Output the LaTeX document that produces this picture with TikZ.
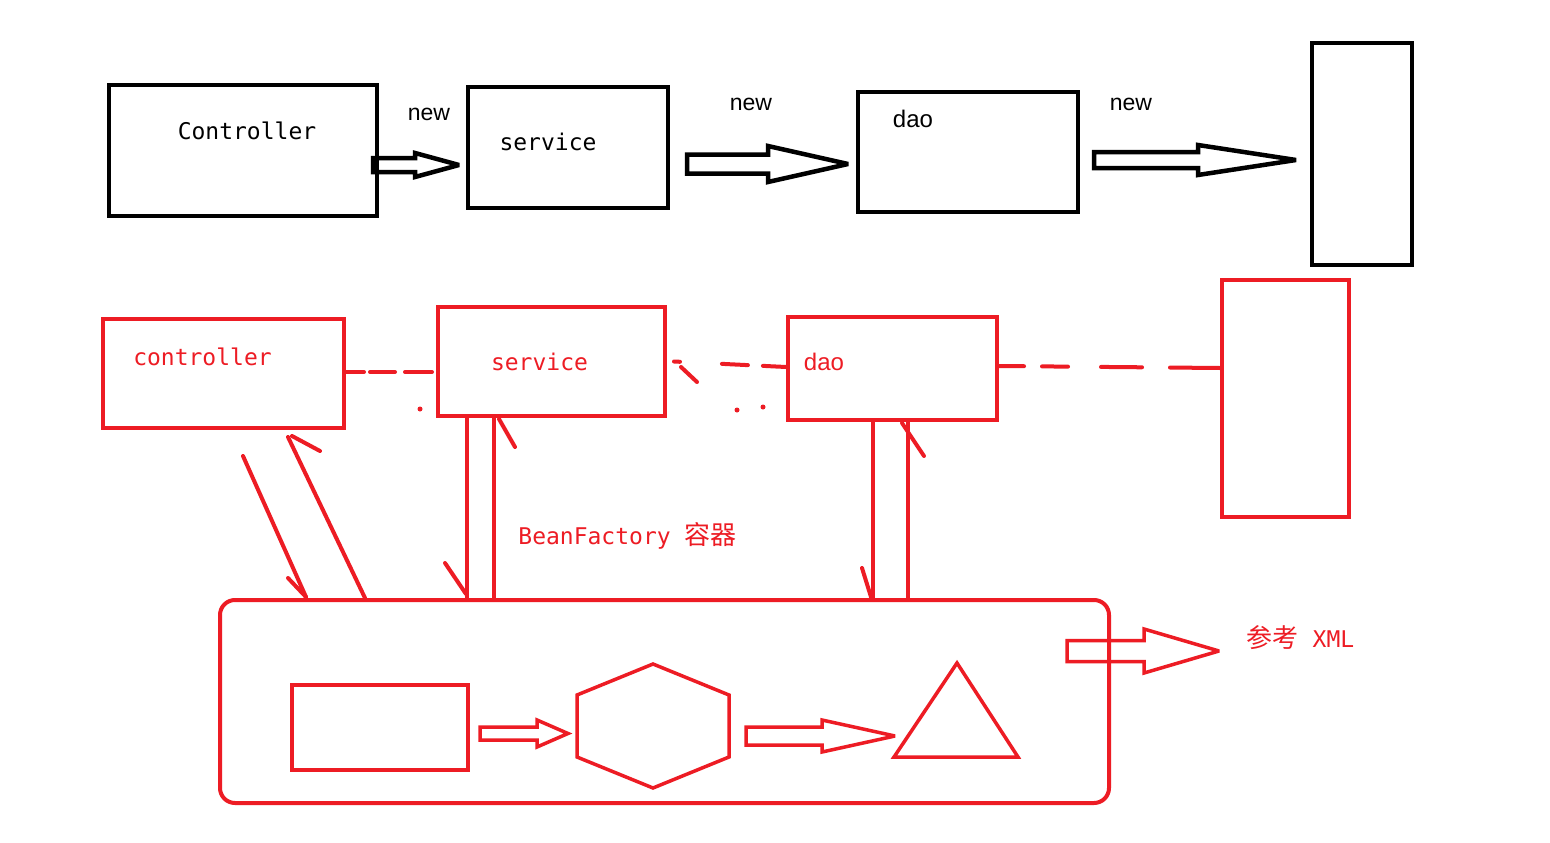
\documentclass[tikz,border=0pt]{standalone}
\usepackage{fontspec}
\setmainfont{Liberation Sans}
\newfontfamily\monofont{DejaVu Sans Mono}
\newfontfamily\cjk{Noto Sans CJK SC}
\usepackage{xcolor}
\definecolor{paintred}{HTML}{ED1C24}
\usetikzlibrary{positioning}

% hollow block arrow: [style] {x start}{y}{head x}{tip x}{shaft half}{head half}
\newcommand{\hollowarrow}[7][]{%
  \draw[#1] (#2,#3-#6) -- (#4,#3-#6) -- (#4,#3-#7) -- (#5,#3) -- (#4,#3+#7) -- (#4,#3+#6) -- (#2,#3+#6) -- cycle;}

\begin{document}
\begin{tikzpicture}[
  x=1pt, y=-1pt,
  blackbox/.style={draw, line width=4.5pt, minimum width=#1, inner sep=0pt},
  redbox/.style={draw=paintred, line width=4pt, minimum width=#1, inner sep=0pt},
  fatblack/.style={line width=4.5pt, black, miter limit=3},
  fatred/.style={line width=4pt, paintred, miter limit=3},
  redline/.style={line width=4pt, paintred, line cap=round},
  monolabel/.style={font=\monofont\fontsize{23}{26}\selectfont, inner sep=0pt},
  arial/.style={font=\fontsize{23}{26}\selectfont, inner sep=0pt},
]
  \fill[white] (0,0) rectangle (1550,843);
  \useasboundingbox (0,0) rectangle (1550,843);

  % plain objects, created with new
  \node[blackbox=268pt, minimum height=131pt] (ctrl) at (243,150.5) {};
  \node[blackbox=200pt, minimum height=121pt] (serv) at (568,147.5) {};
  \node[blackbox=220pt, minimum height=120pt] (dao) at (968,152) {};
  \node[blackbox=100pt, minimum height=222pt] (db) at (1362,154) {};
  \node[monolabel] (ctrltext) at (247,131) {Controller};
  \node[monolabel] (servtext) at (548,142) {service};
  \node[arial, font=\fontsize{24}{28}\selectfont] (daotext) at (913,119) {dao};
  \node[arial] (new1) at (429,114) {new};
  \node[arial] (new2) at (751,104) {new};
  \node[arial] (new3) at (1131,104) {new};

  \hollowarrow[fatblack]{373}{165}{415}{459}{7}{12}
  \hollowarrow[fatblack]{687}{164}{768}{848}{9.5}{18}
  \hollowarrow[fatblack]{1094}{160}{1198}{1296}{8}{15}

  % objects held by the container
  \node[redbox=241pt, minimum height=109pt] (ctrl2) at (223.5,373.5) {};
  \node[redbox=227pt, minimum height=109pt] (serv2) at (551.5,361.5) {};
  \node[redbox=209pt, minimum height=103pt] (dao2) at (892.5,368.5) {};
  \node[redbox=127pt, minimum height=237pt] (db2) at (1285.5,398.5) {};
  \node[monolabel, text=paintred] (ctrl2text) at (202.5,357) {controller};
  \node[monolabel, text=paintred] (serv2text) at (539.5,362) {service};
  \node[arial, text=paintred, font=\fontsize{24}{28}\selectfont] (dao2text) at (824,362) {dao};

  \draw[redline, dash pattern=on 18pt off 6pt on 25pt off 10pt on 27pt off 30pt]
    ([yshift=1.5pt]ctrl2.east) -- ([yshift=-10.5pt]serv2.west);
  \draw[redline, dash pattern=on 6pt off 42pt on 26pt off 15pt on 27pt off 10pt]
    ([xshift=7pt]serv2.east) -- ([yshift=1.5pt]dao2.west);
  \draw[redline] (681,367) -- (697,382);
  \draw[redline, dash pattern=on 25pt off 18pt on 26pt off 33pt on 41pt off 28pt on 60pt off 5pt]
    ([yshift=2.5pt]dao2.east) -- ([yshift=30.5pt]db2.west);
  \foreach \dx/\dy in {420/409, 737/410, 763/407}
    \fill[paintred] (\dx,\dy) circle (2.5pt);

  % container
  \node[redbox=889pt, minimum height=203pt, rounded corners=15pt] (factory) at (664.5,701.5) {};
  \node[font=\monofont\fontsize{23}{26}\selectfont, text=paintred, inner sep=0pt] (factorytext) at (627.5,536)
    {BeanFactory {\cjk\fontsize{26}{28}\selectfont 容器}};
  \node[font=\monofont\fontsize{23}{26}\selectfont, text=paintred, inner sep=0pt] (xmltext) at (1300.5,638)
    {{\cjk\fontsize{26}{28}\selectfont 参考} XML};

  \draw[redline] (243,456) -- (306,597);
  \draw[redline] (288,578) -- (306,597);
  \draw[redline] (288,437) -- (365,598);
  \draw[redline] (292,436) -- (320,451);
  \draw[fatred] ([xshift=-84.5pt]serv2.south) -- ([xshift=-197.5pt]factory.north);
  \draw[redline] (445,563) -- (466,594);
  \draw[fatred] ([xshift=-57.5pt]serv2.south) -- ([xshift=-170.5pt]factory.north);
  \draw[redline] (499,419) -- (515,447);
  \draw[fatred] ([xshift=-19.5pt]dao2.south) -- ([xshift=208.5pt]factory.north);
  \draw[redline] (862,568) -- (871,597);
  \draw[fatred] ([xshift=15.5pt]dao2.south) -- ([xshift=243.5pt]factory.north);
  \draw[redline] (902,423) -- (924,456);

  % inside the container
  \node[redbox=176pt, minimum height=85pt] (plainbox) at (380,727.5) {};
  \draw[fatred, line width=3.5pt] (577,695) -- (653,664) -- (729,695) -- (729,757) -- (653,788) -- (577,757) -- cycle;
  \draw[fatred, line width=3.5pt] (894,757) -- (957,663) -- (1018,757) -- cycle;
  \hollowarrow[fatred, line width=3.5pt]{480}{733.5}{537}{568}{6.5}{13.5}
  \hollowarrow[fatred, line width=3.5pt]{746}{736}{822}{895}{9}{16}
  \hollowarrow[fatred, line width=3.5pt]{1067}{651}{1144}{1219}{10.5}{22}
\end{tikzpicture}
\end{document}
